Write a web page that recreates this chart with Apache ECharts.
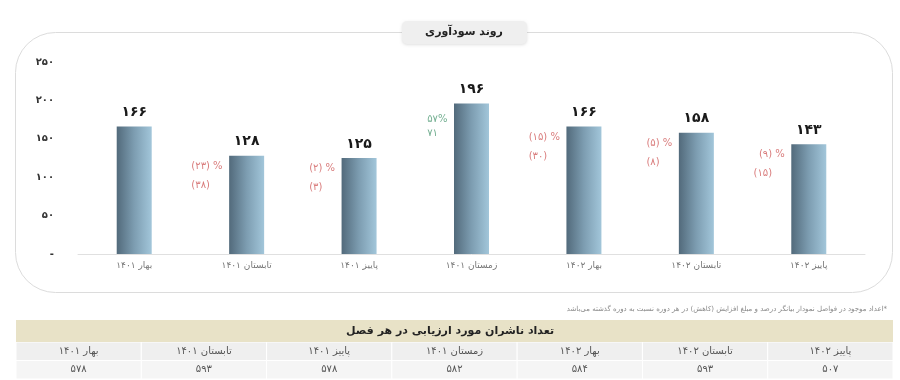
<!DOCTYPE html>
<html>
<head>
<meta charset="utf-8">
<script src="https://cdn.jsdelivr.net/npm/echarts@6/dist/echarts.min.js"></script>
<style>
html,body{margin:0;padding:0;background:#fff;}
#main{width:900px;height:380px;}
</style>
</head>
<body>
<div id="main"></div>
<script>
const categories = ['بهار ۱۴۰۱', 'تابستان ۱۴۰۱', 'پاییز ۱۴۰۱', 'زمستان ۱۴۰۱', 'بهار ۱۴۰۲', 'تابستان ۱۴۰۲', 'پاییز ۱۴۰۲'];
const profit = [166, 128, 125, 196, 166, 158, 143];
const changePct = [null, -23, -2, 57, -15, -5, -9];
const changeAbs = [null, -38, -3, 71, -30, -8, -15];
const yTickLabels = { 0: '-', 50: '۵۰', 100: '۱۰۰', 150: '۱۵۰', 200: '۲۰۰', 250: '۲۵۰' };
const tableCols = ['بهار ۱۴۰۱', 'تابستان ۱۴۰۱', 'پاییز ۱۴۰۱', 'زمستان ۱۴۰۱', 'بهار ۱۴۰۲', 'تابستان ۱۴۰۲', 'پاییز ۱۴۰۲'];
const tableValues = [578, 593, 578, 582, 584, 593, 507];
const chartTitle = 'روند سودآوری';
const tableTitle = 'تعداد ناشران مورد ارزیابی در هر فصل';
const footnote = '*اعداد موجود در فواصل نمودار بیانگر درصد و مبلغ افزایش (کاهش) در هر دوره نسبت به دوره گذشته می‌باشد';

const FONT = 'DejaVu Sans';
function fa(n) {
  return String(n).replace(/[0-9]/g, d => '۰۱۲۳۴۵۶۷۸۹'[d]);
}

const changeData = [];
categories.forEach((c, i) => {
  if (changePct[i] === null) return;
  const neg = changePct[i] < 0;
  const item = { value: [i, profit[i]], pct: changePct[i], abs: changeAbs[i] };
  if (neg) {
    item.label = { lineHeight: 19, position: [-24, 1], color: '#cf5b5b' };
  } else {
    item.label = { lineHeight: 14, position: [-24, 9], color: '#4f9a74' };
  }
  changeData.push(item);
});

const chart = echarts.init(document.getElementById('main'), null, { renderer: 'canvas' });

const option = {
  animation: false,
  backgroundColor: '#ffffff',
  textStyle: { fontFamily: FONT },
  grid: [
    { left: 78, right: 35, top: 62, bottom: 126 },
    { left: 16, right: 7, top: 342, height: 37 }
  ],
  xAxis: [
    {
      type: 'category', gridIndex: 0, data: categories,
      axisLine: { show: true, lineStyle: { color: '#e0e0e0', width: 1 } },
      axisTick: { show: false },
      axisLabel: { color: '#777', fontSize: 9, margin: 7, fontFamily: FONT }
    },
    {
      type: 'category', gridIndex: 1, data: tableCols,
      show: false
    }
  ],
  yAxis: [
    {
      type: 'value', gridIndex: 0, min: 0, max: 250, interval: 50,
      splitLine: { show: false },
      axisLine: { show: false }, axisTick: { show: false },
      axisLabel: {
        color: '#333', fontSize: 10, fontWeight: 'bold', margin: 24, fontFamily: FONT,
        formatter: v => yTickLabels[v]
      }
    },
    {
      type: 'category', gridIndex: 1, data: ['values', 'names'], show: false
    }
  ],
  graphic: [
    {
      type: 'rect', z: 0, silent: true,
      shape: { x: 15.5, y: 32.5, width: 877, height: 260, r: 40 },
      style: { fill: 'none', stroke: '#dcdcdc', lineWidth: 1 }
    },
    {
      type: 'rect', z: 10, silent: true,
      shape: { x: 402, y: 21, width: 125, height: 23, r: 5 },
      style: { fill: '#efefef', shadowBlur: 3, shadowColor: 'rgba(0,0,0,0.12)', shadowOffsetY: 1 }
    },
    {
      type: 'text', z: 11, silent: true, x: 464, y: 32.5,
      style: { text: chartTitle, fill: '#222', font: 'bold 11px "DejaVu Sans"', align: 'center', verticalAlign: 'middle' }
    },
    {
      type: 'text', z: 11, silent: true, x: 887, y: 309,
      style: { text: '\u200F' + footnote, fill: '#888', font: '7px "DejaVu Sans"', align: 'right', verticalAlign: 'middle' }
    },
    {
      type: 'rect', z: 10, silent: true,
      shape: { x: 16, y: 320, width: 877, height: 22 },
      style: { fill: '#e8e2c7' }
    },
    {
      type: 'text', z: 11, silent: true, x: 450, y: 331,
      style: { text: tableTitle, fill: '#222', font: 'bold 11px "DejaVu Sans"', align: 'center', verticalAlign: 'middle' }
    }
  ],
  series: [
    {
      type: 'bar', xAxisIndex: 0, yAxisIndex: 0,
      data: profit,
      barWidth: 35,
      itemStyle: {
        color: new echarts.graphic.LinearGradient(0, 0, 1, 0, [
          { offset: 0, color: '#526a7b' },
          { offset: 0.5, color: '#7d9db1' },
          { offset: 1, color: '#a2c6da' }
        ])
      },
      label: {
        show: true, position: 'top', distance: 7,
        color: '#1a1a1a', fontSize: 14, fontWeight: 'bold', fontFamily: FONT,
        formatter: p => fa(p.value)
      }
    },
    {
      type: 'scatter', xAxisIndex: 0, yAxisIndex: 0,
      symbolSize: 0.1,
      itemStyle: { color: 'rgba(0,0,0,0)' },
      data: changeData,
      label: {
        show: true, fontSize: 10, fontFamily: FONT,
        align: 'right', verticalAlign: 'top',
        formatter: p => {
          const d = p.data;
          if (d.pct < 0) {
            return '(' + fa(-d.pct) + ') %\n(' + fa(-d.abs) + ') {h|%}';
          }
          return fa(d.pct) + '%\n' + fa(d.abs) + '{h|%}';
        },
        rich: { h: { color: 'rgba(0,0,0,0)', fontSize: 10, fontFamily: FONT } }
      }
    },
    {
      type: 'custom', xAxisIndex: 1, yAxisIndex: 1,
      coordinateSystem: 'cartesian2d',
      data: tableCols.map((c, i) => [i, 1, c]).concat(tableValues.map((v, i) => [i, 0, fa(v)])),
      renderItem: (params, api) => {
        const x = api.value(0), y = api.value(1);
        const c = api.coord([x, y]);
        const s = api.size([1, 1]);
        const label = params.dataIndex < tableCols.length ? tableCols[x] : fa(tableValues[x]);
        return {
          type: 'group',
          children: [
            {
              type: 'rect',
              shape: { x: c[0] - s[0] / 2, y: c[1] - s[1] / 2, width: s[0], height: s[1] },
              style: { fill: y === 1 ? '#efefef' : '#f5f5f5', stroke: '#ffffff', lineWidth: 1 }
            },
            {
              type: 'text',
              x: c[0], y: c[1],
              style: { text: label, fill: '#555', font: '10px "DejaVu Sans"', align: 'center', verticalAlign: 'middle' }
            }
          ]
        };
      }
    }
  ]
};
chart.setOption(option);
</script>
</body>
</html>
